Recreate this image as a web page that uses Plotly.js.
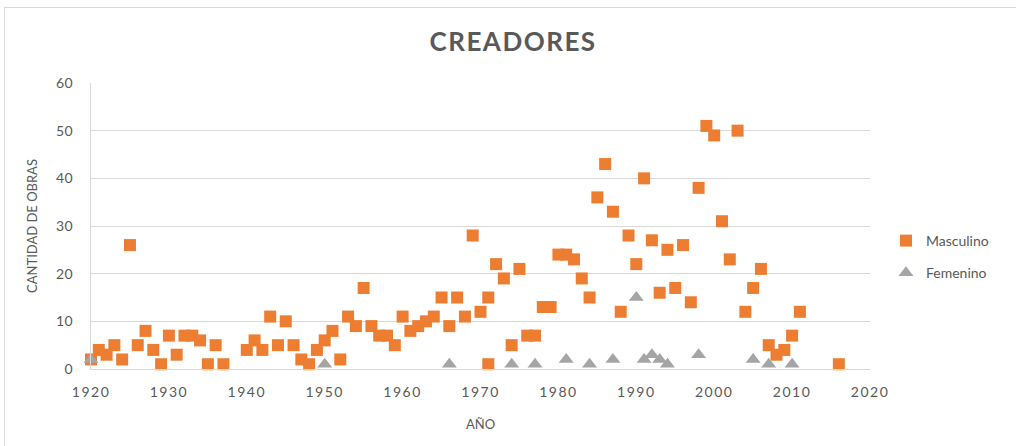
<!DOCTYPE html>
<html>
<head>
<meta charset="utf-8">
<script src="https://cdn.plot.ly/plotly-3.0.1.min.js"></script>
<style>
  html, body { margin: 0; padding: 0; background: #fff; }
  #wrap { position: relative; width: 1016px; height: 446px; overflow: hidden; }
  #chart { position: absolute; left: 0; top: 0; width: 1016px; height: 446px; }
  #frame { position: absolute; left: 4px; top: 7px; width: 1020px; height: 450px;
           border-top: 1px solid #d9d9d9; border-left: 1px solid #d9d9d9; pointer-events: none; }
  .gtitle { letter-spacing: 1.5px; }
  .xtick text { letter-spacing: 1.5px; }
  .ytick text { letter-spacing: 0.5px; }
</style>
</head>
<body>
<div id="wrap"><div id="chart"></div><div id="frame"></div></div>
<script>
// Masculino
const yearsMasculino = [1920,1921,1922,1923,1924,1925,1926,1927,1928,1929,1930,1931,1932,1933,1934,1935,1936,1937,
  1940,1941,1942,1943,1944,1945,1946,1947,1948,1949,1950,1951,1952,1953,1954,1955,1956,1957,1958,1959,
  1960,1961,1962,1963,1964,1965,1966,1967,1968,1969,1970,1971,1971,1972,1973,1974,1975,1976,1977,1978,1979,
  1980,1981,1982,1983,1984,1985,1986,1987,1988,1989,1990,1991,1992,1993,1994,1995,1996,1997,1998,1999,
  2000,2001,2002,2003,2004,2005,2006,2007,2008,2009,2010,2011,2016];
const obrasMasculino = [2,4,3,5,2,26,5,8,4,1,7,3,7,7,6,1,5,1,
  4,6,4,11,5,10,5,2,1,4,6,8,2,11,9,17,9,7,7,5,
  11,8,9,10,11,15,9,15,11,28,12,15,1,22,19,5,21,7,7,13,13,
  24,24,23,19,15,36,43,33,12,28,22,40,27,16,25,17,26,14,38,51,
  49,31,23,50,12,17,21,5,3,4,7,12,1];
// Femenino
const yearsFemenino = [1920,1950,1966,1974,1977,1981,1984,1987,1990,1991,1992,1993,1994,1998,2005,2007,2010];
const obrasFemenino = [2,1,1,1,1,2,1,2,15,2,3,2,1,3,2,1,1];

const xTicks = [1920,1930,1940,1950,1960,1970,1980,1990,2000,2010,2020];
const yTicks = [0,10,20,30,40,50,60];

const txt = '#595959';
const font = 'Lato, "Open Sans", "Liberation Sans", sans-serif';

const traces = [
  {
    type: 'scatter', mode: 'markers', name: 'Masculino',
    x: yearsMasculino, y: obrasMasculino,
    legendgroup: 'm',
    marker: { symbol: 'square', size: 12, color: '#ED7D31' },
    cliponaxis: false
  },
  {
    type: 'scatter', mode: 'markers', name: 'Femenino',
    x: yearsFemenino, y: obrasFemenino,
    legendgroup: 'f',
    marker: { symbol: 'triangle-up', size: 13, color: '#A5A5A5' },
    cliponaxis: false
  }
];

const layout = {
  width: 1016, height: 446,
  paper_bgcolor: '#fff', plot_bgcolor: '#fff',
  margin: { l: 91, r: 146, t: 83, b: 77 },
  font: { family: font, color: txt, size: 14 },
  title: {
    text: '<b>CREADORES</b>',
    font: { family: font, size: 26, color: txt },
    x: 0.505, xref: 'container', xanchor: 'center',
    y: 1 - 42/446, yref: 'container', yanchor: 'middle'
  },
  xaxis: {
    range: [1920, 2020],
    tickvals: xTicks, ticktext: xTicks.map(String),
    showgrid: false, zeroline: false,
    showline: true, linecolor: '#d9d9d9', linewidth: 1,
    ticks: '', ticklabelstandoff: 10,
    tickfont: { family: font, size: 14, color: txt },
    title: { text: 'AÑO', font: { family: font, size: 13, color: txt }, standoff: 21 }
  },
  yaxis: {
    range: [0, 60],
    tickvals: yTicks, ticktext: yTicks.map(String),
    showgrid: true, gridcolor: '#d9d9d9', gridwidth: 1,
    zeroline: false,
    showline: true, linecolor: '#d9d9d9', linewidth: 1,
    ticks: '', ticklabelstandoff: 14,
    tickfont: { family: font, size: 14, color: txt },
    title: { text: 'CANTIDAD DE OBRAS', font: { family: font, size: 13, color: txt }, standoff: 15 }
  },
  showlegend: true,
  legend: {
    x: (886 - 91) / 779, xanchor: 'left',
    y: 1 - (225 - 83) / 286, yanchor: 'top',
    traceorder: 'grouped', tracegroupgap: 11,
    font: { family: font, size: 14, color: txt },
    bgcolor: 'rgba(0,0,0,0)', borderwidth: 0
  }
};

Plotly.newPlot('chart', traces, layout, { displayModeBar: false, staticPlot: true });
</script>
</body>
</html>
